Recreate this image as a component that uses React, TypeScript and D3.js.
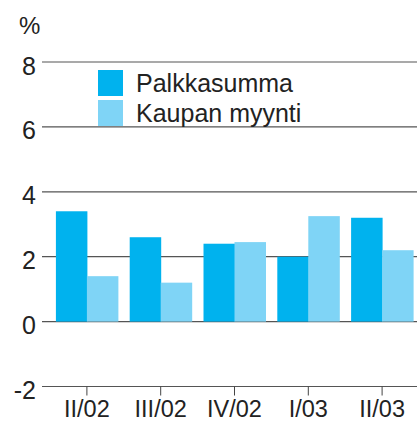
import { useEffect } from 'react';
import * as d3 from 'd3';

const categories = ['II/02', 'III/02', 'IV/02', 'I/03', 'II/03'];
const palkkasumma = [3.4, 2.6, 2.4, 2.0, 3.2];
const kaupanMyynti = [1.4, 1.2, 2.45, 3.25, 2.2];
const yTicks = [-2, 0, 2, 4, 6, 8];
const seriesNames = ['Palkkasumma', 'Kaupan myynti'];
const colors = ['#00b2ee', '#7fd4f6'];

export default function App() {
  useEffect(() => {
    document.body.style.margin = '0';
  }, []);

  const width = 417;
  const height = 423;
  const font = 'Liberation Sans, Arial, sans-serif';

  const x = d3.scaleBand().domain(categories).range([50, 419]).paddingInner(0.16).paddingOuter(0.08);
  const xInner = d3.scaleBand().domain(seriesNames).range([0, x.bandwidth()]);
  const y = d3.scaleLinear().domain([-2, 8]).range([386.5, 62]);

  const series = [palkkasumma, kaupanMyynti];

  return (
    <svg width={width} height={height} style={{ display: 'block', fontFamily: font }}>
      <rect width={width} height={height} fill="#fff" />
      <text x={19} y={34} fontSize={24} fill="#222">%</text>
      {yTicks.map((t) => (
        <g key={t}>
          <line x1={42} x2={width} y1={y(t)} y2={y(t)} stroke="#555" strokeWidth={1.2} />
          <text x={36} y={y(t) + 12.5} fontSize={25} textAnchor="end" fill="#222">{t}</text>
        </g>
      ))}
      {series.map((vals, si) =>
        vals.map((v, i) => {
          const bx = (x(categories[i]) ?? 0) + (xInner(seriesNames[si]) ?? 0);
          return (
            <rect
              key={`${si}-${i}`}
              x={bx}
              y={y(Math.max(0, v))}
              width={xInner.bandwidth() + 0.5}
              height={Math.abs(y(v) - y(0))}
              fill={colors[si]}
            />
          );
        })
      )}
      {categories.map((c) => {
        const cx = (x(c) ?? 0) + x.bandwidth() / 2;
        return (
          <g key={c}>
            <line x1={cx} x2={cx} y1={y(-2)} y2={y(-2) + 9} stroke="#444" strokeWidth={1} />
            <text x={cx} y={417} fontSize={23.5} textAnchor="middle" fill="#222">{c}</text>
          </g>
        );
      })}
      {seriesNames.map((n, i) => (
        <g key={n} transform={`translate(98, ${70 + i * 30})`}>
          <rect width={25} height={26} fill={colors[i]} />
          <text x={38} y={22} fontSize={25} fill="#222">{n}</text>
        </g>
      ))}
    </svg>
  );
}
